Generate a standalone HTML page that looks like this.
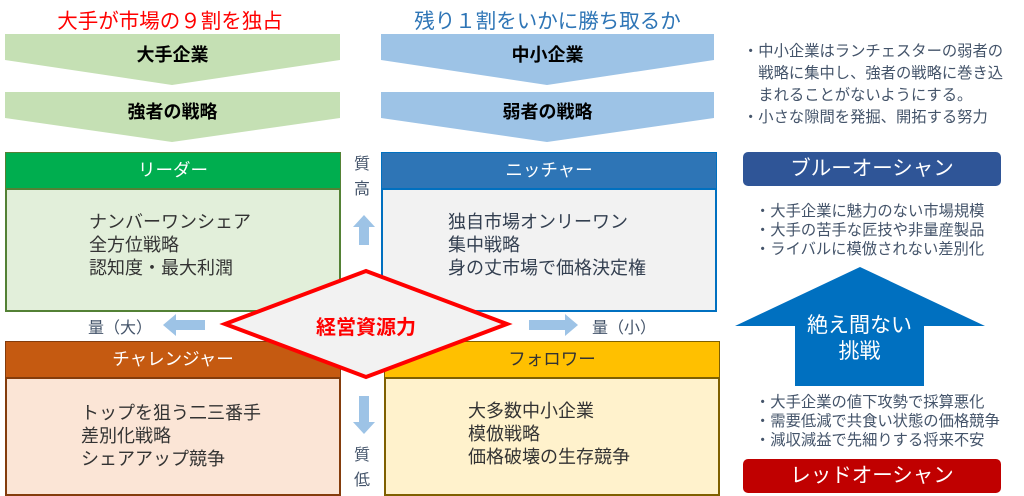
<!DOCTYPE html>
<html><head><meta charset="utf-8"><style>
body{margin:0;width:1024px;height:496px;background:#fff;position:relative;overflow:hidden;font-family:"Liberation Sans","Noto Sans CJK JP",sans-serif}
.a{position:absolute;white-space:nowrap}
.box{position:absolute;box-sizing:border-box;border:2px solid}
.hd{position:absolute;left:0;right:0;top:0;height:35px;color:#fff;font-size:17.5px;text-align:center;line-height:34px}
.bd{position:absolute;font-size:18px;line-height:23px;color:#333}
.bl{font-size:15.3px;line-height:19px;color:#44546A}
</style></head><body>
<svg class="a" style="left:0;top:0" width="1024" height="496">
<polygon points="5,34 340,34 340,60 172,85 5,60" fill="#C5E0B4"/>
<polygon points="5,92 340,92 340,118 172,142 5,118" fill="#C5E0B4"/>
<polygon points="381,34 714,34 714,60 547,85 381,60" fill="#9DC3E6"/>
<polygon points="381,92 714,92 714,118 547,142 381,118" fill="#9DC3E6"/>
<polygon points="163,325 176,314 176,320 205,320 205,330 176,330 176,336" fill="#9DC3E6"/>
<polygon points="578,325 565,314 565,320 529,320 529,330 565,330 565,336" fill="#9DC3E6"/>
<polygon points="364,215 375,227 369,227 369,245 359,245 359,227 353,227" fill="#9DC3E6"/>
<polygon points="364,434 375,422 369,422 369,396 359,396 359,422 353,422" fill="#9DC3E6"/>
<polygon points="860,267 985,326 924,326 924,386 795,386 795,326 735,326" fill="#0070C0"/>
</svg>
<div class="a" style="left:0;width:340px;top:4px;text-align:center;color:#FF0000;font-size:20.5px">大手が市場の９割を独占</div>
<div class="a" style="left:381px;width:333px;top:4px;text-align:center;color:#2E75B6;font-size:20.5px">残り１割をいかに勝ち取るか</div>
<div class="a" style="left:5px;width:335px;top:41px;text-align:center;font-weight:bold;font-size:18px">大手企業</div>
<div class="a" style="left:5px;width:335px;top:98px;text-align:center;font-weight:bold;font-size:18px">強者の戦略</div>
<div class="a" style="left:381px;width:333px;top:41px;text-align:center;font-weight:bold;font-size:18px">中小企業</div>
<div class="a" style="left:381px;width:333px;top:98px;text-align:center;font-weight:bold;font-size:18px">弱者の戦略</div>

<div class="box" style="left:5px;top:152px;width:336px;height:160px;border-color:#538135;background:#E2EFDA"><div class="hd" style="background:#00AE4F;left:-1px;right:-1px;top:-1px;border-bottom:2px solid #538135">リーダー</div>
<div class="bd" style="left:82px;top:57px">ナンバーワンシェア<br>全方位戦略<br>認知度・最大利潤</div></div>
<div class="box" style="left:381px;top:152px;width:336px;height:160px;border-color:#0070C0;background:#F2F2F2"><div class="hd" style="background:#2E75B6;left:-1px;right:-1px;top:-1px;border-bottom:2px solid #0070C0">ニッチャー</div>
<div class="bd" style="left:65px;top:57px;color:#333F50">独自市場オンリーワン<br>集中戦略<br>身の丈市場で価格決定権</div></div>
<div class="box" style="left:5px;top:341px;width:336px;height:155px;border-color:#843C0C;background:#FBE5D6"><div class="hd" style="background:#C55A11;left:-1px;right:-1px;top:-1px;border-bottom:2px solid #843C0C">チャレンジャー</div>
<div class="bd" style="left:74px;top:59px">トップを狙う二三番手<br>差別化戦略<br>シェアアップ競争</div></div>
<div class="box" style="left:384px;top:341px;width:336px;height:155px;border-color:#7F6000;background:#FFF2CC"><div class="hd" style="background:#FFC000;color:#333;left:-1px;right:-1px;top:-1px;border-bottom:2px solid #7F6000">フォロワー</div>
<div class="bd" style="left:82px;top:57px">大多数中小企業<br>模倣戦略<br>価格破壊の生存競争</div></div>

<svg class="a" style="left:0;top:0" width="1024" height="496">
<polygon points="225,324 366,271 507,324 366,377" fill="#F2F2F2" stroke="#FF0000" stroke-width="4"/>
</svg>
<div class="a" style="left:296px;width:140px;top:311px;text-align:center;color:#FF0000;font-weight:bold;font-size:20px">経営資源力</div>
<div class="a" style="left:88px;top:314px;color:#44546A;font-size:16px">量（大）</div>
<div class="a" style="left:592px;top:314px;color:#44546A;font-size:16px">量（小）</div>
<div class="a" style="left:354px;top:152px;color:#44546A;font-size:16px;line-height:25px">質<br>高</div>
<div class="a" style="left:354px;top:443px;color:#44546A;font-size:16px;line-height:25px">質<br>低</div>

<div class="a bl" style="left:743px;top:41px;line-height:22px">・中小企業はランチェスターの弱者の<br>　戦略に集中し、強者の戦略に巻き込<br>　まれることがないようにする。<br>・小さな隙間を発掘、開拓する努力</div>
<div class="a" style="left:743px;top:152px;width:258px;height:34px;background:#2F5597;border-radius:5px;color:#fff;text-align:center;line-height:34px;font-size:20.5px">ブルーオーシャン</div>
<div class="a bl" style="left:755px;top:202px">・大手企業に魅力のない市場規模<br>・大手の苦手な匠技や非量産製品<br>・ライバルに模倣されない差別化</div>
<div class="a" style="left:785px;width:149px;top:313px;text-align:center;color:#fff;font-size:21px;line-height:26px">絶え間ない<br>挑戦</div>
<div class="a bl" style="left:755px;top:393px">・大手企業の値下攻勢で採算悪化<br>・需要低減で共食い状態の価格競争<br>・減収減益で先細りする将来不安</div>
<div class="a" style="left:743px;top:459px;width:258px;height:34px;background:#C00000;border-radius:5px;color:#fff;text-align:center;line-height:34px;font-size:20.5px">レッドオーシャン</div>
</body></html>
